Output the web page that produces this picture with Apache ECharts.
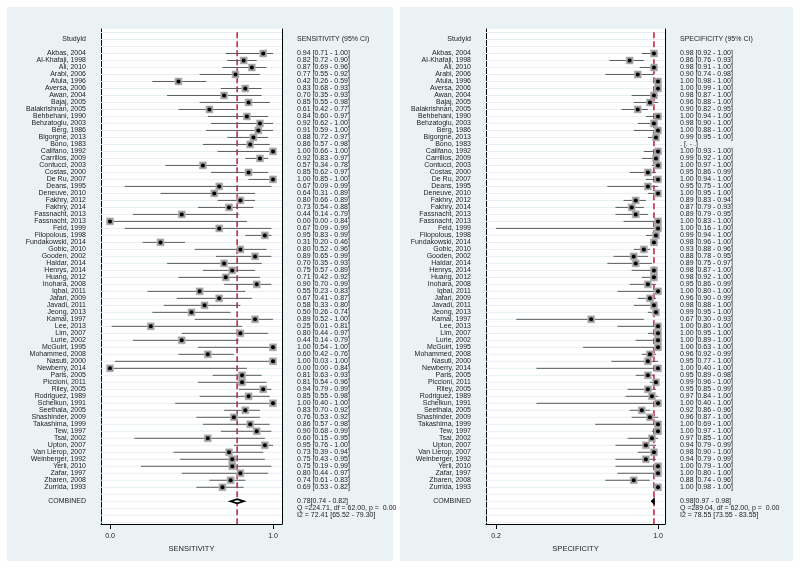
<!DOCTYPE html>
<html>
<head>
<meta charset="utf-8">
<script src="https://cdn.jsdelivr.net/npm/echarts@6/dist/echarts.min.js"></script>
<style>html,body{margin:0;padding:0;background:#fff}#c{width:800px;height:569px}</style>
</head>
<body>
<div id="c"></div>
<script>
const studies = ["Akbas, 2004","Al-Khafaji, 1998","Ali, 2010","Arabi, 2006","Atula, 1996","Aversa, 2006","Awan, 2004","Bajaj, 2005","Balakrishnan, 2005","Behbehani, 1990","Behzatoglu, 2003","Berg, 1986","Bigorgne, 2013","Bono, 1983","Califano, 1992","Carrillos, 2009","Contucci, 2003","Costas, 2000","De Ru, 2007","Deans, 1995","Deneuve, 2010","Fakhry, 2012","Fakhry, 2014","Fassnacht, 2013","Fassnacht, 2013","Feld, 1999","Filopolous, 1998","Fundakowski, 2014","Gobic, 2010","Gooden, 2002","Haldar, 2014","Henrys, 2014","Huang, 2012","Inohara, 2008","Iqbal, 2011","Jafari, 2009","Javadi, 2011","Jeong, 2013","Kamal, 1997","Lee, 2013","Lim, 2007","Lurie, 2002","McGuirt, 1995","Mohammed, 2008","Nasuti, 2000","Newberry, 2014","Paris, 2005","Piccioni, 2011","Riley, 2005","Rodriguez, 1989","Schelkun, 1991","Seethala, 2005","Shashinder, 2009","Takashima, 1999","Tew, 1997","Tsai, 2002","Upton, 2007","Van Lierop, 2007","Weinberger, 1992","Yerli, 2010","Zafar, 1997","Zbaren, 2008","Zurrida, 1993"];

const sensVal = [0.94,0.82,0.87,0.77,0.42,0.83,0.70,0.85,0.61,0.84,0.92,0.91,0.88,0.86,1.00,0.92,0.57,0.85,1.00,0.67,0.64,0.80,0.73,0.44,0.00,0.67,0.95,0.31,0.80,0.89,0.70,0.75,0.71,0.90,0.55,0.67,0.58,0.50,0.89,0.25,0.80,0.44,1.00,0.60,1.00,0.00,0.81,0.81,0.94,0.85,1.00,0.83,0.76,0.86,0.90,0.60,0.95,0.73,0.75,0.75,0.80,0.74,0.69];
const sensLo  = [0.71,0.72,0.69,0.55,0.26,0.68,0.35,0.55,0.42,0.60,0.62,0.59,0.72,0.57,0.66,0.83,0.34,0.62,0.85,0.09,0.31,0.66,0.54,0.14,0.00,0.09,0.83,0.20,0.52,0.65,0.35,0.57,0.42,0.70,0.23,0.41,0.33,0.26,0.52,0.01,0.44,0.14,0.54,0.42,0.03,0.00,0.63,0.54,0.79,0.55,0.40,0.70,0.53,0.57,0.68,0.15,0.76,0.39,0.43,0.19,0.44,0.61,0.53];
const sensHi  = [1.00,0.90,0.96,0.92,0.59,0.93,0.93,0.98,0.77,0.97,1.00,1.00,0.97,0.98,1.00,0.97,0.78,0.97,1.00,0.99,0.89,0.89,0.88,0.79,0.84,0.99,0.99,0.46,0.96,0.99,0.93,0.89,0.92,0.99,0.83,0.87,0.80,0.74,1.00,0.81,0.97,0.79,1.00,0.76,1.00,0.84,0.93,0.96,0.99,0.98,1.00,0.92,0.92,0.98,0.99,0.95,1.00,0.94,0.95,0.99,0.97,0.83,0.82];

const specVal = [0.98,0.86,0.98,0.90,1.00,1.00,0.98,0.96,0.90,1.00,0.98,1.00,0.99,null,1.00,0.99,1.00,0.95,1.00,0.95,1.00,0.89,0.87,0.89,1.00,1.00,0.99,0.98,0.93,0.88,0.89,0.98,0.98,0.95,1.00,0.96,0.98,0.99,0.67,1.00,1.00,1.00,1.00,0.96,0.95,1.00,0.95,0.99,0.95,0.97,1.00,0.92,0.96,1.00,1.00,0.97,0.94,0.98,0.94,1.00,1.00,0.88,1.00];
const specLo  = [0.92,0.76,0.91,0.74,0.98,0.99,0.87,0.88,0.82,0.94,0.90,0.88,0.95,null,0.93,0.92,0.97,0.86,0.94,0.75,0.95,0.83,0.79,0.79,0.83,0.16,0.94,0.96,0.88,0.78,0.75,0.87,0.92,0.86,0.80,0.90,0.88,0.95,0.30,0.80,0.95,0.89,0.63,0.92,0.77,0.40,0.89,0.96,0.85,0.84,0.40,0.86,0.87,0.69,0.97,0.85,0.79,0.90,0.79,0.79,0.80,0.74,0.98];
const specHi  = [1.00,0.93,1.00,0.98,1.00,1.00,1.00,1.00,0.95,1.00,1.00,1.00,1.00,null,1.00,1.00,1.00,0.99,1.00,1.00,1.00,0.94,0.93,0.95,1.00,1.00,1.00,1.00,0.96,0.95,0.97,1.00,1.00,0.99,1.00,0.99,1.00,1.00,0.93,1.00,1.00,1.00,1.00,0.99,1.00,1.00,0.98,1.00,0.99,1.00,1.00,0.96,1.00,1.00,1.00,1.00,0.99,1.00,0.99,1.00,1.00,0.96,1.00];

const sensPooled = [0.78, 0.74, 0.82];
const specPooled = [0.98, 0.97, 0.98];
const sensHet = {q: 224.71, df: 62.00, p: 0.00, i2: [72.41, 65.52, 79.30]};
const specHet = {q: 289.04, df: 62.00, p: 0.00, i2: [78.55, 73.55, 83.55]};

const sensTicks = [0.0, 1.0];
const specTicks = [0.2, 1.0];
const sensTitle = 'SENSITIVITY';
const specTitle = 'SPECIFICITY';
const nameHeader = 'StudyId';
</script>
<script>
const FONT = '"Liberation Sans", Arial, Helvetica, sans-serif';
const TXT = '#222';
const ROW_HEADER = -2, ROW_POOLED = studies.length + 1;
const Y_MIN = -3.5, Y_MAX = 67.25;
const TOP = 29, HEIGHT = 495;
const panels = [
  {left: 101, width: 181, xmin: -0.0552, xmax: 1.0552, clip: 0.0, val: sensVal, lo: sensLo, hi: sensHi,
   pooled: sensPooled, het: sensHet, ticks: sensTicks, title: sensTitle},
  {left: 486, width: 179, xmin: 0.1506, xmax: 1.0346, clip: 0.2, val: specVal, lo: specLo, hi: specHi,
   pooled: specPooled, het: specHet, ticks: specTicks, title: specTitle}
];
const f2 = v => v.toFixed(2);
const ci = (v, l, h) => (v == null) ? '. [. - .]' : f2(v) + ' [' + f2(l) + ' - ' + f2(h) + ']';

const grids = [], xAxes = [], yAxes = [], series = [];
panels.forEach((P, k) => {
  grids.push({left: P.left, top: TOP, width: P.width, height: HEIGHT, show: true, backgroundColor: '#fff', borderWidth: 0});
  xAxes.push({gridIndex: k, type: 'value', min: P.xmin, max: P.xmax, position: 'bottom',
    axisLine: {show: true, onZero: false, lineStyle: {color: '#000', width: 1}},
    axisTick: {show: true, customValues: P.ticks, length: 5, lineStyle: {color: '#000', width: 1}},
    axisLabel: {show: true, customValues: P.ticks, formatter: v => Number(v).toFixed(1), fontSize: 7, color: TXT, margin: 9, fontFamily: FONT},
    splitLine: {show: false},
    name: P.title, nameLocation: 'middle', nameGap: 15, nameTextStyle: {fontSize: 7.5, color: TXT, fontFamily: FONT}});
  ['left', 'right'].forEach(pos => yAxes.push({gridIndex: k, type: 'value', inverse: true, min: Y_MIN, max: Y_MAX, position: pos,
    axisLine: {show: true, onZero: false, lineStyle: {color: '#000', width: 1}},
    axisTick: {show: false}, axisLabel: {show: false}, splitLine: {show: false}}));
  const yi = k * 2;
  // faint row gridlines
  const gridRows = [];
  for (let r = -3; r <= 67; r++) gridRows.push([P.xmin, r]);
  series.push({type: 'custom', xAxisIndex: k, yAxisIndex: yi, z: 1, silent: true, data: gridRows,
    renderItem: (params, api) => {
      const a = api.coord([P.xmin, api.value(1)]), b = api.coord([P.xmax, api.value(1)]);
      return {type: 'line', shape: {x1: a[0], y1: a[1], x2: b[0], y2: b[1]}, style: {stroke: '#e6eef1', lineWidth: 1}};
    }});
  // pooled estimate reference line
  series.push({type: 'custom', xAxisIndex: k, yAxisIndex: yi, z: 2, silent: true, data: [[P.pooled[0]]],
    renderItem: (params, api) => {
      const a = api.coord([api.value(0), -3.05]), b = api.coord([api.value(0), Y_MAX]);
      return {type: 'line', shape: {x1: a[0], y1: a[1], x2: b[0], y2: b[1]}, style: {stroke: '#c42a45', lineWidth: 1.6, lineDash: [6, 3]}};
    }});
  // study estimates
  series.push({type: 'custom', xAxisIndex: k, yAxisIndex: yi, z: 3, silent: true,
    data: studies.map((s, i) => [i, P.val[i] == null ? NaN : P.val[i], P.lo[i] == null ? NaN : P.lo[i], P.hi[i] == null ? NaN : P.hi[i]]),
    renderItem: (params, api) => {
      const row = api.value(0), v = api.value(1), lo = api.value(2), hi = api.value(3);
      if (isNaN(v)) return null;
      const pv = api.coord([v, row]), pl = api.coord([Math.max(lo, P.clip), row]), ph = api.coord([hi, row]);
      return {type: 'group', children: [
        {type: 'line', shape: {x1: pl[0], y1: pv[1], x2: ph[0], y2: pv[1]}, style: {stroke: '#5a5a5a', lineWidth: 1}},
        {type: 'rect', shape: {x: pv[0] - 3.5, y: pv[1] - 3.5, width: 7, height: 7}, style: {fill: '#9b9b9b', stroke: '#b8b8b8', lineWidth: 0.6}},
        {type: 'circle', shape: {cx: pv[0], cy: pv[1], r: 2}, style: {fill: '#000'}}
      ]};
    }});
  // pooled diamond
  series.push({type: 'custom', xAxisIndex: k, yAxisIndex: yi, z: 4, silent: true,
    data: [[ROW_POOLED, P.pooled[0], P.pooled[1], P.pooled[2]]],
    renderItem: (params, api) => {
      const row = api.value(0);
      const pv = api.coord([api.value(1), row]), pl = api.coord([api.value(2), row]), ph = api.coord([api.value(3), row]);
      return {type: 'polygon', shape: {points: [[pl[0], pv[1]], [pv[0], pv[1] - 2], [ph[0], pv[1]], [pv[0], pv[1] + 2]]},
        style: {fill: '#fff', stroke: '#000', lineWidth: 1.8}};
    }});
  // texts
  const texts = [];
  texts.push({row: ROW_HEADER, text: nameHeader, side: 'name'});
  texts.push({row: ROW_HEADER, text: P.title + ' (95% CI)', side: 'stat'});
  studies.forEach((s, i) => {
    texts.push({row: i, text: s, side: 'name'});
    texts.push({row: i, text: ci(P.val[i], P.lo[i], P.hi[i]), side: 'stat'});
  });
  texts.push({row: ROW_POOLED, text: 'COMBINED', side: 'name'});
  texts.push({row: ROW_POOLED, text: f2(P.pooled[0]) + '[' + f2(P.pooled[1]) + ' - ' + f2(P.pooled[2]) + ']', side: 'stat'});
  texts.push({row: ROW_POOLED + 1, text: 'Q =' + f2(P.het.q) + ', df = ' + f2(P.het.df) + ', p =  ' + f2(P.het.p), side: 'stat'});
  texts.push({row: ROW_POOLED + 2, text: 'I2 = ' + f2(P.het.i2[0]) + ' [' + f2(P.het.i2[1]) + ' - ' + f2(P.het.i2[2]) + ']', side: 'stat'});
  series.push({type: 'custom', xAxisIndex: k, yAxisIndex: yi, z: 5, silent: true, clip: false,
    data: texts.map(t => [P.xmin, t.row]),
    renderItem: (params, api) => {
      const t = texts[params.dataIndex];
      const y = api.coord([P.xmin, api.value(1)])[1];
      const isName = t.side === 'name';
      const x = isName ? P.left - 15 : P.left + P.width + 15;
      return {type: 'text', x: x, y: y, style: {text: t.text, fill: TXT, fontSize: 7, fontFamily: FONT,
        align: isName ? 'right' : 'left', verticalAlign: 'middle', textAlign: isName ? 'right' : 'left', textVerticalAlign: 'middle'}};
    }});
});

const chart = echarts.init(document.getElementById('c'), null, {renderer: 'canvas'});
chart.setOption({
  animation: false,
  backgroundColor: '#fff',
  graphic: [
    {type: 'rect', z: -100, silent: true, shape: {x: 7, y: 7, width: 386, height: 554}, style: {fill: '#eaf2f3'}},
    {type: 'rect', z: -100, silent: true, shape: {x: 400, y: 7, width: 393, height: 554}, style: {fill: '#eaf2f3'}}
  ],
  grid: grids, xAxis: xAxes, yAxis: yAxes, series: series
});
</script>
</body>
</html>
